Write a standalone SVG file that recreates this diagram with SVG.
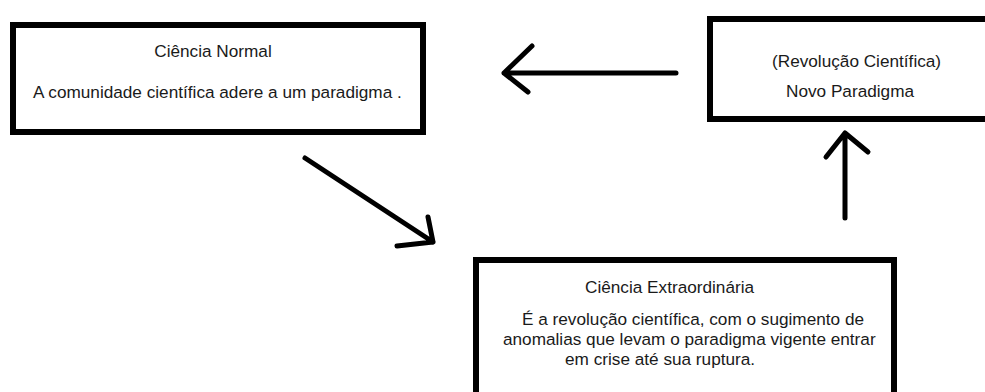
<svg xmlns="http://www.w3.org/2000/svg" width="985" height="392" viewBox="0 0 985 392">
  <style>
    .box { fill: #ffffff; stroke: #000000; stroke-width: 6; }
    .txt { font-family: "Liberation Sans", Arial, sans-serif; font-size: 17.2px; fill: #1a1a1a; }
    .stroke { fill: none; stroke: #000000; stroke-width: 5; stroke-linecap: round; stroke-linejoin: round; }
  </style>
  <rect x="0" y="0" width="985" height="392" fill="#ffffff"/>

  <g id="ciencia-normal">
    <rect class="box" x="13" y="25" width="410" height="107"/>
    <text class="txt" x="213" y="57" text-anchor="middle">Ciência Normal</text>
    <text class="txt" x="33" y="98">A comunidade científica adere a um paradigma .</text>
  </g>

  <g id="revolucao-cientifica">
    <rect class="box" x="710" y="19" width="300" height="100"/>
    <text class="txt" x="772" y="67">(Revolução Científica)</text>
    <text class="txt" x="786" y="97">Novo Paradigma</text>
  </g>

  <g id="ciencia-extraordinaria">
    <rect class="box" x="476" y="260" width="418" height="150"/>
    <text class="txt" x="585" y="293">Ciência Extraordinária</text>
    <text class="txt" x="522" y="325">É a revolução científica, com o sugimento de</text>
    <text class="txt" x="503" y="345">anomalias que levam o paradigma vigente entrar</text>
    <text class="txt" x="565" y="365">em crise até sua ruptura.</text>
  </g>

  <g id="connectors">
    <!-- Novo Paradigma back to Ciência Normal -->
    <path class="stroke" d="M676 73 L504 73 M532 46 L504 73 L528 92"/>
    <!-- Ciência Normal into Ciência Extraordinária -->
    <path class="stroke" d="M305 158 L433 242 M428 217 L433 242 L397 246"/>
    <!-- Ciência Extraordinária up to Revolução Científica -->
    <path class="stroke" d="M845 218 L845 133 M826 157 L845 133 L868 152"/>
  </g>
</svg>
